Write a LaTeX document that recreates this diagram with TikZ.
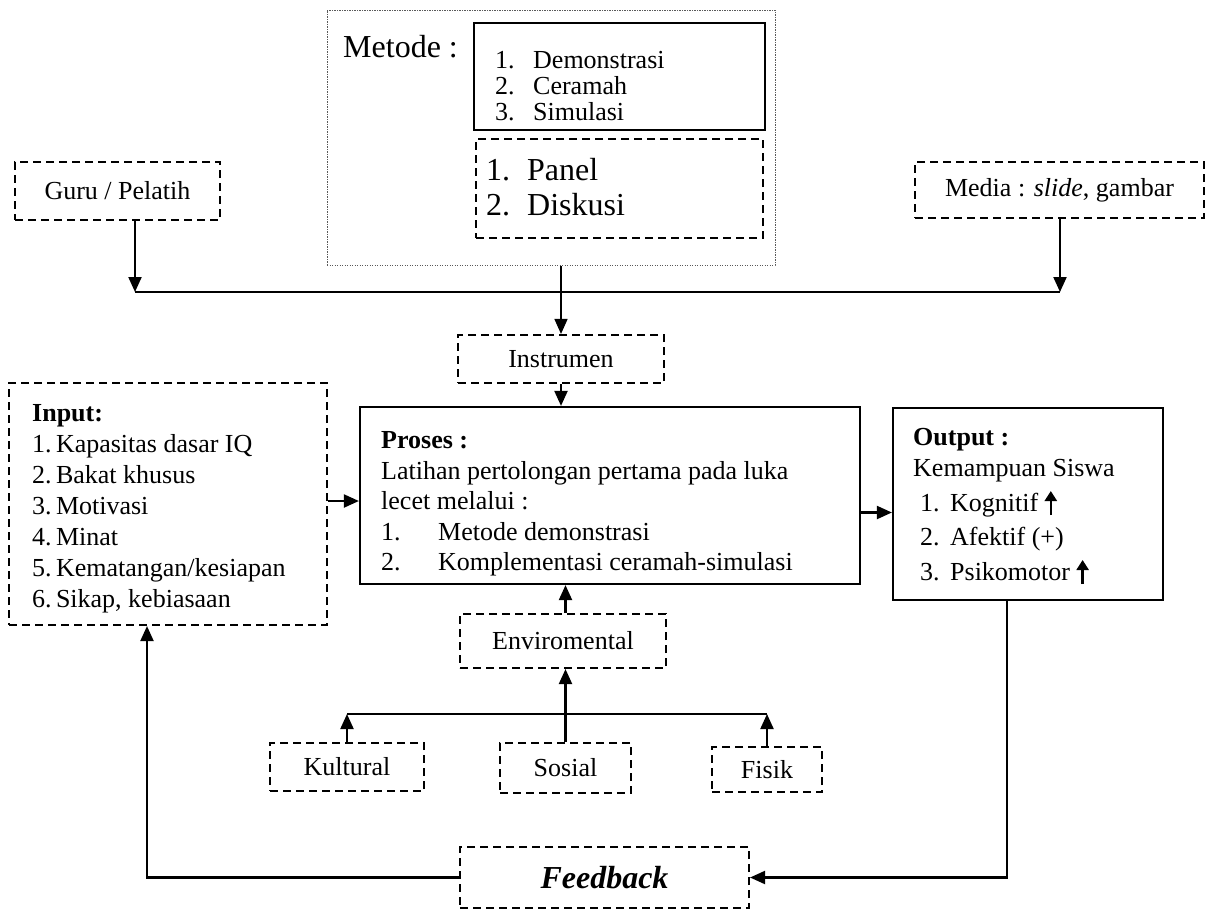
\documentclass[tikz,border=0pt]{standalone}
\usepackage{fontspec}
\setmainfont{Liberation Serif}
\usetikzlibrary{arrows.meta,calc}
\newcommand\fs[1]{\fontsize{#1}{#1}\selectfont}
\newcommand\uparr{\tikz[baseline=0pt]\draw[line width=2.4pt,-{Triangle[length=10pt,width=12pt]}] (0pt,-4pt) -- (0pt,20pt);}
\tikzset{
  dbox/.style={draw, line width=2.1pt, dash pattern=on 8pt off 5pt, inner sep=0pt, font=\fs{26}},
  sbox/.style={draw, line width=2.2pt, inner sep=0pt},
  obox/.style={draw=gray!70!black, line width=1pt, dash pattern=on 1.2pt off 1.3pt, inner sep=0pt},
  conn/.style={line width=2.1pt},
  thin conn/.style={line width=1.5pt},
  tip/.style={-{Triangle[length=15pt,width=13pt]}},
  arr/.style={conn, tip},
  txt/.style={anchor=base west, inner sep=0pt, font=\fs{26}},
  bigtxt/.style={anchor=base west, inner sep=0pt, font=\fs{32}},
  mtxt/.style={anchor=base west, inner sep=0pt, font=\fs{26}},
}
\begin{document}
\begin{tikzpicture}[x=1pt,y=-1pt]
\useasboundingbox (0,0) rectangle (1210,910);

% ---------- Metode group ----------
\node[obox, minimum width=448pt, minimum height=255pt] (metOuter) at (551,137.5) {};
\node[sbox, minimum width=291pt, minimum height=107pt] (metSolid) at (619.5,76.5) {};
\node[dbox, minimum width=287pt, minimum height=99pt] (metDash) at (619.5,188.5) {};
\node[bigtxt] (metLabel) at (343,57) {Metode :};
\node[mtxt] (m1) at (495,68) {\makebox[38pt][l]{1.}Demonstrasi};
\node[mtxt] (m2) at (495,94) {\makebox[38pt][l]{2.}Ceramah};
\node[mtxt] (m3) at (495,120) {\makebox[38pt][l]{3.}Simulasi};
\node[bigtxt] (p1) at (486,180) {\makebox[41pt][l]{1.}Panel};
\node[bigtxt] (p2) at (486,215) {\makebox[41pt][l]{2.}Diskusi};

% ---------- top side boxes ----------
\node[dbox, minimum width=205pt, minimum height=58pt] (guru) at (117.5,191) {Guru / Pelatih};
\node[dbox, minimum width=289pt, minimum height=56pt] (media) at (1059.5,190) {Media : \textit{slide}, gambar};

% ---------- middle ----------
\node[dbox, minimum width=206pt, minimum height=48pt] (instr) at (561,359) {Instrumen};
\node[dbox, minimum width=318pt, minimum height=242pt] (input) at (168,504) {};
\node[sbox, minimum width=500pt, minimum height=177pt] (proses) at (610,495.5) {};
\node[sbox, minimum width=270pt, minimum height=192pt] (output) at (1028,504) {};

\node[txt] (in0) at (32,421) {\textbf{Input:}};
\node[txt] (in1) at (32,452) {1.\,Kapasitas dasar IQ};
\node[txt] (in2) at (32,483) {2.\,Bakat khusus};
\node[txt] (in3) at (32,514) {3.\,Motivasi};
\node[txt] (in4) at (32,545) {4.\,Minat};
\node[txt] (in5) at (32,576) {5.\,Kematangan/kesiapan};
\node[txt] (in6) at (32,607) {6.\,Sikap, kebiasaan};

\node[txt] (pr0) at (381,448) {\textbf{Proses :}};
\node[txt] (pr1) at (381,479) {Latihan pertolongan pertama pada luka};
\node[txt] (pr2) at (381,509) {lecet melalui :};
\node[txt] (pr3) at (381,540) {\makebox[57pt][l]{1.}Metode demonstrasi};
\node[txt] (pr4) at (381,570) {\makebox[57pt][l]{2.}Komplementasi ceramah-simulasi};

\node[txt] (out0) at (913,445) {\textbf{Output :}};
\node[txt] (out1) at (913,476) {Kemampuan Siswa};
\node[txt] (out2) at (920,511) {\makebox[30pt][l]{1.}Kognitif \uparr};
\node[txt] (out3) at (920,545) {\makebox[30pt][l]{2.}Afektif (+)};
\node[txt] (out4) at (920,580) {\makebox[30pt][l]{3.}Psikomotor \uparr};

% ---------- lower ----------
\node[dbox, minimum width=206pt, minimum height=54pt] (env) at (563,641) {Enviromental};
\node[dbox, minimum width=154pt, minimum height=48pt] (kult) at (347,767) {Kultural};
\node[dbox, minimum width=131pt, minimum height=50pt] (sos) at (565.5,768) {Sosial};
\node[dbox, minimum width=110pt, minimum height=45pt] (fis) at (767,769.5) {Fisik};
\node[dbox, minimum width=289pt, minimum height=61pt, font=\fs{32}\bfseries\itshape] (feed) at (604.5,877.5) {Feedback};

% ---------- connectors ----------
\coordinate (jL) at (135,292);
\coordinate (jR) at (1060,292);
\draw[arr] (guru.south -| jL) -- (jL);
\draw[arr] (media.south -| jR) -- (jR);
\draw[conn, line width=2.8pt] (jL) -- (jR);
\draw[thin conn, tip] (metOuter.south -| instr.north) -- (instr.north);
\draw[arr] (instr.south) -- (proses.north -| instr.south);
\draw[arr] ([yshift=3pt]input.east) -- ([yshift=3pt]input.east -| proses.west);
\draw[arr] ([yshift=-17pt]proses.east) -- ([yshift=-17pt]proses.east -| output.west);
\draw[arr] (env.north -| sos.north) -- (proses.south -| sos.north);
\draw[arr] (sos.north) -- (env.south -| sos.north);
\coordinate (hl) at (565,714);
\draw[conn, line width=2.8pt] (hl -| kult.north) -- (hl -| fis.north);
\draw[arr] (kult.north) -- (hl -| kult.north);
\draw[arr] (fis.north) -- (hl -| fis.north);
\draw[arr] ([xshift=-21pt]output.south) |- (feed.east);
\draw[arr] (feed.west) -| ([xshift=-21pt]input.south);
\end{tikzpicture}
\end{document}
